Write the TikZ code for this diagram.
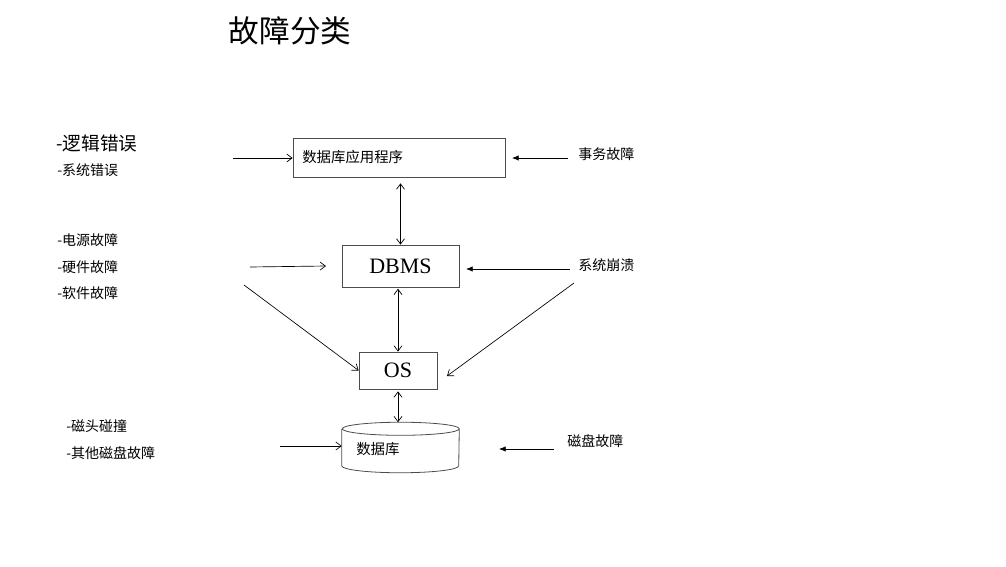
\documentclass[tikz,border=0pt]{standalone}
\usepackage{fontspec}
\setmainfont{Liberation Serif}
\newfontfamily\cjk{Noto Sans CJK SC}
\usetikzlibrary{positioning, arrows.meta}

\begin{document}
\begin{tikzpicture}[
    x=0.75pt, y=-0.75pt,
    box/.style={rectangle, draw=black!70, line width=0.6pt, inner sep=0pt},
    disk/.style={rectangle, minimum width=87.75pt, minimum height=37.5pt, inner sep=0pt},
    outline/.style={draw=black!70, line width=0.6pt},
    fault/.style={anchor=west, inner sep=0pt, font=\cjk\fontsize{10.5}{12}\selectfont},
    arrow/.style={-{Straight Barb[length=4pt, width=6pt]}, line width=0.5pt},
    fillarrow/.style={-{Latex[length=5pt, width=4pt]}, line width=0.5pt},
    dblarrow/.style={{Straight Barb[length=4pt, width=6pt]}-{Straight Barb[length=4pt, width=6pt]}, line width=0.5pt}
]
\useasboundingbox (0,0) rectangle (1006,567);

% Title
\node[font=\cjk\fontsize{23}{26}\selectfont] (title) at (290,31) {故障分类};

% Layers
\node[box, minimum width=159pt, minimum height=29.25pt, text width=145pt, align=left, font=\cjk\fontsize{10.8}{12}\selectfont] (app) at (399,157.5) {数据库应用程序};
\node[box, minimum width=87.75pt, minimum height=31.5pt, font=\fontsize{16.5}{18}\selectfont] (dbms) at (400.5,266) {DBMS};
\node[box, minimum width=58.5pt, minimum height=27.75pt, font=\fontsize{16.5}{18}\selectfont] (os) at (398,370.5) {OS};
\node[disk] (db) at (400.5,447.5) {};
\node[fault, font=\cjk\fontsize{10.8}{12}\selectfont] (dbtext) at (356,449) {数据库};

% Cylinder outline of the database
\draw[outline] ([yshift=-4.9pt]db.north west) -- ([yshift=5.2pt]db.south west)
    arc[start angle=180, end angle=360, x radius=43.875pt, y radius=5.2pt]
    -- ([yshift=-4.9pt]db.north east)
    arc[start angle=0, end angle=180, x radius=43.875pt, y radius=4.9pt]
    arc[start angle=180, end angle=360, x radius=43.875pt, y radius=4.9pt];

% Faults on the left
\node[fault, font=\cjk\fontsize{14}{16}\selectfont] (logic) at (56,143) {-逻辑错误};
\node[fault] (syserr) at (57,170) {-系统错误};
\node[fault] (power) at (57,240) {-电源故障};
\node[fault] (hard) at (57,267) {-硬件故障};
\node[fault] (soft) at (57,293) {-软件故障};
\node[fault] (head) at (66,426) {-磁头碰撞};
\node[fault] (otherdisk) at (66,453) {-其他磁盘故障};

% Faults on the right
\node[fault] (trans) at (578,154) {事务故障};
\node[fault] (crash) at (578,265) {系统崩溃};
\node[fault] (diskfail) at (567,441) {磁盘故障};

% Free ends of the arrows
\coordinate (a1) at (233,158);
\coordinate (a2) at (250,267);
\coordinate (a3) at (244,285);
\coordinate (a4) at (280,446);
\coordinate (b1) at (568,158);
\coordinate (b2) at (570,269);
\coordinate (b3) at (574,283);
\coordinate (b4) at (554,449);
\coordinate (t1) at (512,158);
\coordinate (t2) at (466,269);
\coordinate (t3) at (447,376);
\coordinate (t4) at (499,449);
\coordinate (t5) at (326,266);

% Left arrows
\draw[arrow] (a1) -- (app.west |- a1);
\draw[arrow] (a2) -- (t5);
\draw[arrow] (a3) -- (os.west);
\draw[arrow] (a4) -- (db.west |- a4);

% Right arrows
\draw[fillarrow] (b1) -- (t1);
\draw[fillarrow] (b2) -- (t2);
\draw[arrow] (b3) -- (t3);
\draw[fillarrow] (b4) -- (t4);

% Between layers
\draw[dblarrow] ([yshift=-4.5pt]app.south -| dbms.north) -- (dbms.north);
\draw[dblarrow] ([yshift=-1pt]dbms.south -| os.north) -- (os.north);
\draw[dblarrow] ([yshift=-1.5pt]os.south) -- (os.south |- db.north);

\end{tikzpicture}
\end{document}
